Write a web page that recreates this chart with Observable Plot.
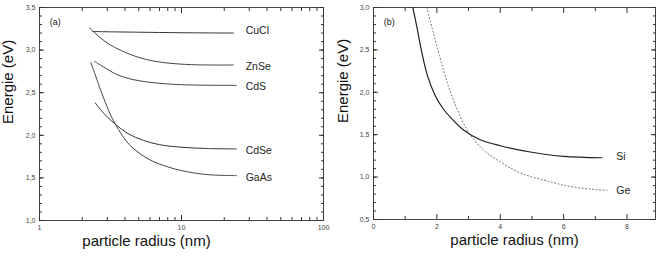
<!DOCTYPE html>
<html><head><meta charset="utf-8">
<script src="https://cdn.jsdelivr.net/npm/d3@7"></script>
<script src="https://cdn.jsdelivr.net/npm/@observablehq/plot@0.6"></script>
<style>
body{margin:0;background:#fff;}
#wrap{display:flex;width:661px;height:257px;overflow:hidden;}
svg{font-family:"Liberation Sans",Arial,sans-serif;}
</style></head><body><div id="wrap"></div>
<script>
// ---- Panel (a): energy vs particle radius (log axis) ----
const cuclR = [2.38, 3, 5, 10, 23.2];
const cuclE = [3.218, 3.215, 3.21, 3.204, 3.20];
const znseR = [2.25, 2.5, 2.8, 3.2, 3.7, 4.5, 5.5, 7, 10, 14, 23.2];
const znseE = [3.26, 3.19, 3.12, 3.055, 3.0, 2.94, 2.895, 2.86, 2.835, 2.826, 2.825];
const cdsR = [2.44, 2.7, 2.98, 3.3, 3.7, 4.3, 5, 6, 7.5, 10, 15, 24.3];
const cdsE = [2.867, 2.822, 2.778, 2.735, 2.698, 2.664, 2.641, 2.622, 2.606, 2.594, 2.588, 2.586];
const cdseR = [2.47, 2.9, 3.42, 4.2, 5.4, 7, 10, 15, 24.3];
const cdseE = [2.379, 2.24, 2.13, 2.02, 1.94, 1.89, 1.86, 1.845, 1.84];
const gaasR = [2.30, 2.68, 3.0, 3.42, 4.35, 6.02, 8, 10, 15.1, 24.3];
const gaasE = [2.855, 2.543, 2.33, 2.13, 1.88, 1.71, 1.63, 1.586, 1.539, 1.527];
const labelsA = ["CuCl", "ZnSe", "CdS", "CdSe", "GaAs"];
const labelsAE = [3.227, 2.805, 2.574, 1.82, 1.507];
const labelsAR = 28.3;

// ---- Panel (b): Si and Ge ----
const siR = [1.24, 1.37, 1.52, 1.7, 1.95, 2.21, 2.53, 2.84, 3.37, 4.0, 4.95, 6.0, 7.21];
const siE = [3.0, 2.77, 2.48, 2.2, 1.96, 1.80, 1.665, 1.555, 1.44, 1.37, 1.296, 1.244, 1.228];
const geR = [1.68, 1.89, 2.21, 2.53, 2.95, 3.47, 4.0, 4.63, 5.47, 6.32, 7.37];
const geE = [3.0, 2.70, 2.26, 1.90, 1.56, 1.32, 1.18, 1.05, 0.955, 0.882, 0.843];
const labelsB = ["Si", "Ge"];
const labelsBE = [1.243, 0.843];
const labelsBR = 7.66;

// ---- ticks ----
const xMajorA = [1, 10, 100];
const xMinorA = [2,3,4,5,6,7,8,9,20,30,40,50,60,70,80,90];
const yMajorA = [1.0, 1.5, 2.0, 2.5, 3.0, 3.5];
const yMinorA = d3.range(10, 36).map(v => v / 10);
const xMajorB = [0, 2, 4, 6, 8];
const xMinorB = [1, 3, 5, 7];
const yMajorB = [0.5, 1.0, 1.5, 2.0, 2.5, 3.0];
const yMinorB = d3.range(5, 31).map(v => v / 10);

const commaFmt = d => d3.format(".1f")(d).replace(".", ",");
const intFmt = d => String(d);

const toRows = (name, rs, es) => rs.map((r, i) => ({name, r, e: es[i]}));

function panel(o) {
  const tk = "#333";
  const marks = [
    Plot.frame({stroke: "#444", strokeWidth: 1}),
  ];
  for (const anchor of ["bottom", "top"]) {
    marks.push(Plot.axisX({anchor, ticks: o.xMajor, tickSize: -5, tickFormat: () => "", label: null, stroke: tk}));
    marks.push(Plot.axisX({anchor, ticks: o.xMinor, tickSize: -3, tickFormat: () => "", label: null, stroke: tk}));
  }
  for (const anchor of ["left", "right"]) {
    marks.push(Plot.axisY({anchor, ticks: o.yMajor, tickSize: -5, tickFormat: () => "", label: null, stroke: tk}));
    marks.push(Plot.axisY({anchor, ticks: o.yMinor, tickSize: -3, tickFormat: () => "", label: null, stroke: tk}));
  }
  marks.push(Plot.axisX({anchor: "bottom", ticks: o.xMajor, tickSize: 0, tickPadding: 5, tickFormat: o.xFmt, label: null, fontSize: 7, fill: "#444"}));
  marks.push(Plot.axisY({anchor: "left", ticks: o.yMajor, tickSize: 0, tickPadding: 4, tickFormat: commaFmt, label: null, fontSize: 7, fill: "#444"}));
  for (const s of o.series) {
    marks.push(Plot.line(s.rows, {x: "r", y: "e", stroke: s.color || "#333", strokeWidth: s.sw || 1, curve: "catmull-rom", strokeDasharray: s.dash, clip: true}));
  }
  marks.push(Plot.text(o.labels, {x: () => o.labelR, y: (d, i) => o.labelE[i], text: d => d, textAnchor: "start", fontSize: 10.5, fill: "#222", letterSpacing: "0.5px"}));
  marks.push(Plot.text([o.tag], {x: () => o.tagR, y: () => o.tagE, text: d => d, textAnchor: "start", fontSize: 9, fill: "#222"}));
  marks.push(Plot.text(["Energie (eV)"], {frameAnchor: "left", dx: o.yLabDx, dy: o.yLabDy, rotate: -90, fontSize: 15, fill: "#111"}));
  marks.push(Plot.text(["particle radius (nm)"], {frameAnchor: "bottom", dx: o.xLabDx, dy: 25, fontSize: 15, fill: "#111"}));
  return Plot.plot({
    width: o.width, height: 257,
    marginLeft: o.ml, marginRight: o.mr, marginTop: 7, marginBottom: o.mb,
    x: {type: o.xType, domain: o.xDomain},
    y: {domain: o.yDomain},
    style: {fontFamily: "'Liberation Sans', Arial, sans-serif", background: "white"},
    marks
  });
}

const a = panel({
  width: 330, ml: 39, mr: 7, mb: 37,
  xType: "log", xDomain: [1, 100], yDomain: [1.0, 3.5],
  xMajor: xMajorA, xMinor: xMinorA, yMajor: yMajorA, yMinor: yMinorA, xFmt: intFmt,
  series: [
    {rows: toRows("CuCl", cuclR, cuclE)},
    {rows: toRows("ZnSe", znseR, znseE), color: "#444"},
    {rows: toRows("CdS", cdsR, cdsE), color: "#444"},
    {rows: toRows("CdSe", cdseR, cdseE)},
    {rows: toRows("GaAs", gaasR, gaasE), color: "#444"}
  ],
  labels: labelsA, labelE: labelsAE, labelR: labelsAR,
  tag: "(a)", tagR: 1.18, tagE: 3.33,
  yLabDx: -31, yLabDy: 10, xLabDx: -35
});
const b = panel({
  width: 331, ml: 43, mr: 6, mb: 38,
  xType: "linear", xDomain: [0, 8.9], yDomain: [0.5, 3.0],
  xMajor: xMajorB, xMinor: xMinorB, yMajor: yMajorB, yMinor: yMinorB, xFmt: intFmt,
  series: [
    {rows: toRows("Si", siR, siE), color: "#222", sw: 1.2},
    {rows: toRows("Ge", geR, geE), dash: "1,2.5", color: "#666"}
  ],
  labels: labelsB, labelE: labelsBE, labelR: labelsBR,
  tag: "(b)", tagR: 0.32, tagE: 2.83,
  yLabDx: -30, yLabDy: 9.5, xLabDx: 0
});
document.getElementById("wrap").append(a, b);
</script>
</body></html>
